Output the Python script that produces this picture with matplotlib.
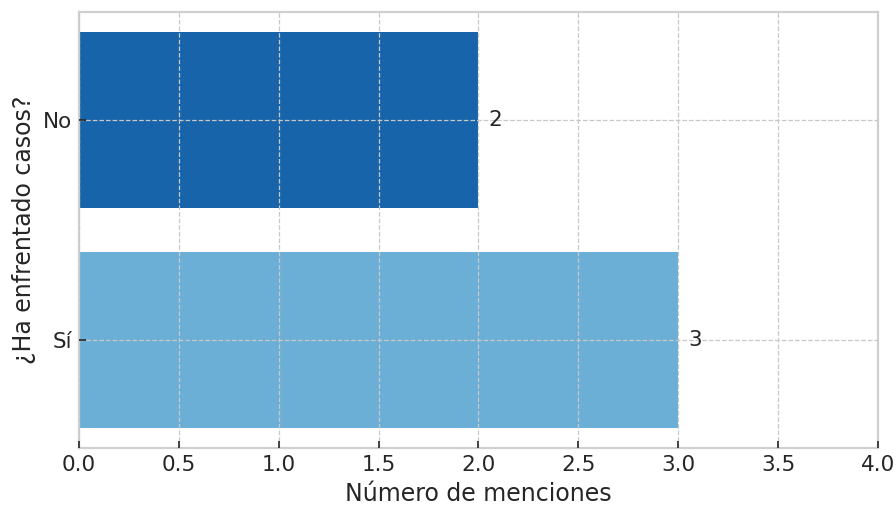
import matplotlib
matplotlib.use("Agg")
import matplotlib.pyplot as plt

categories = ["Sí", "No"]
values = [3, 2]
colors = ["#6baed6", "#1764ab"]

plt.rcParams['font.family'] = ['DejaVu Sans']

fig, ax = plt.subplots(figsize=(8.96, 5.08), dpi=100)
fig.subplots_adjust(left=0.088, right=0.98, top=0.977, bottom=0.118)

bars = ax.barh(categories, values, color=colors, height=0.8, zorder=1)

for bar, v in zip(bars, values):
    ax.text(v + 0.05, bar.get_y() + bar.get_height() / 2, str(v),
            va='center', ha='left', fontsize=15.5, color='#262626', zorder=3)

ax.set_xlim(0, 4)
ax.set_xticks([0, 0.5, 1.0, 1.5, 2.0, 2.5, 3.0, 3.5, 4.0])
ax.set_xlabel("Número de menciones", fontsize=17, color='#262626', labelpad=5)
ax.set_ylabel("¿Ha enfrentado casos?", fontsize=17, color='#262626', labelpad=5)

ax.grid(True, linestyle='--', color='#c8c8c8', linewidth=0.9, zorder=2)
ax.set_axisbelow(False)
for s in ax.spines.values():
    s.set_color('#d0d0d0')
    s.set_linewidth(1.6)
ax.tick_params(direction='in', length=5, width=1.2, color='#262626',
               labelsize=15.5, labelcolor='#262626', pad=5)

fig.savefig("out.png", dpi=100)
